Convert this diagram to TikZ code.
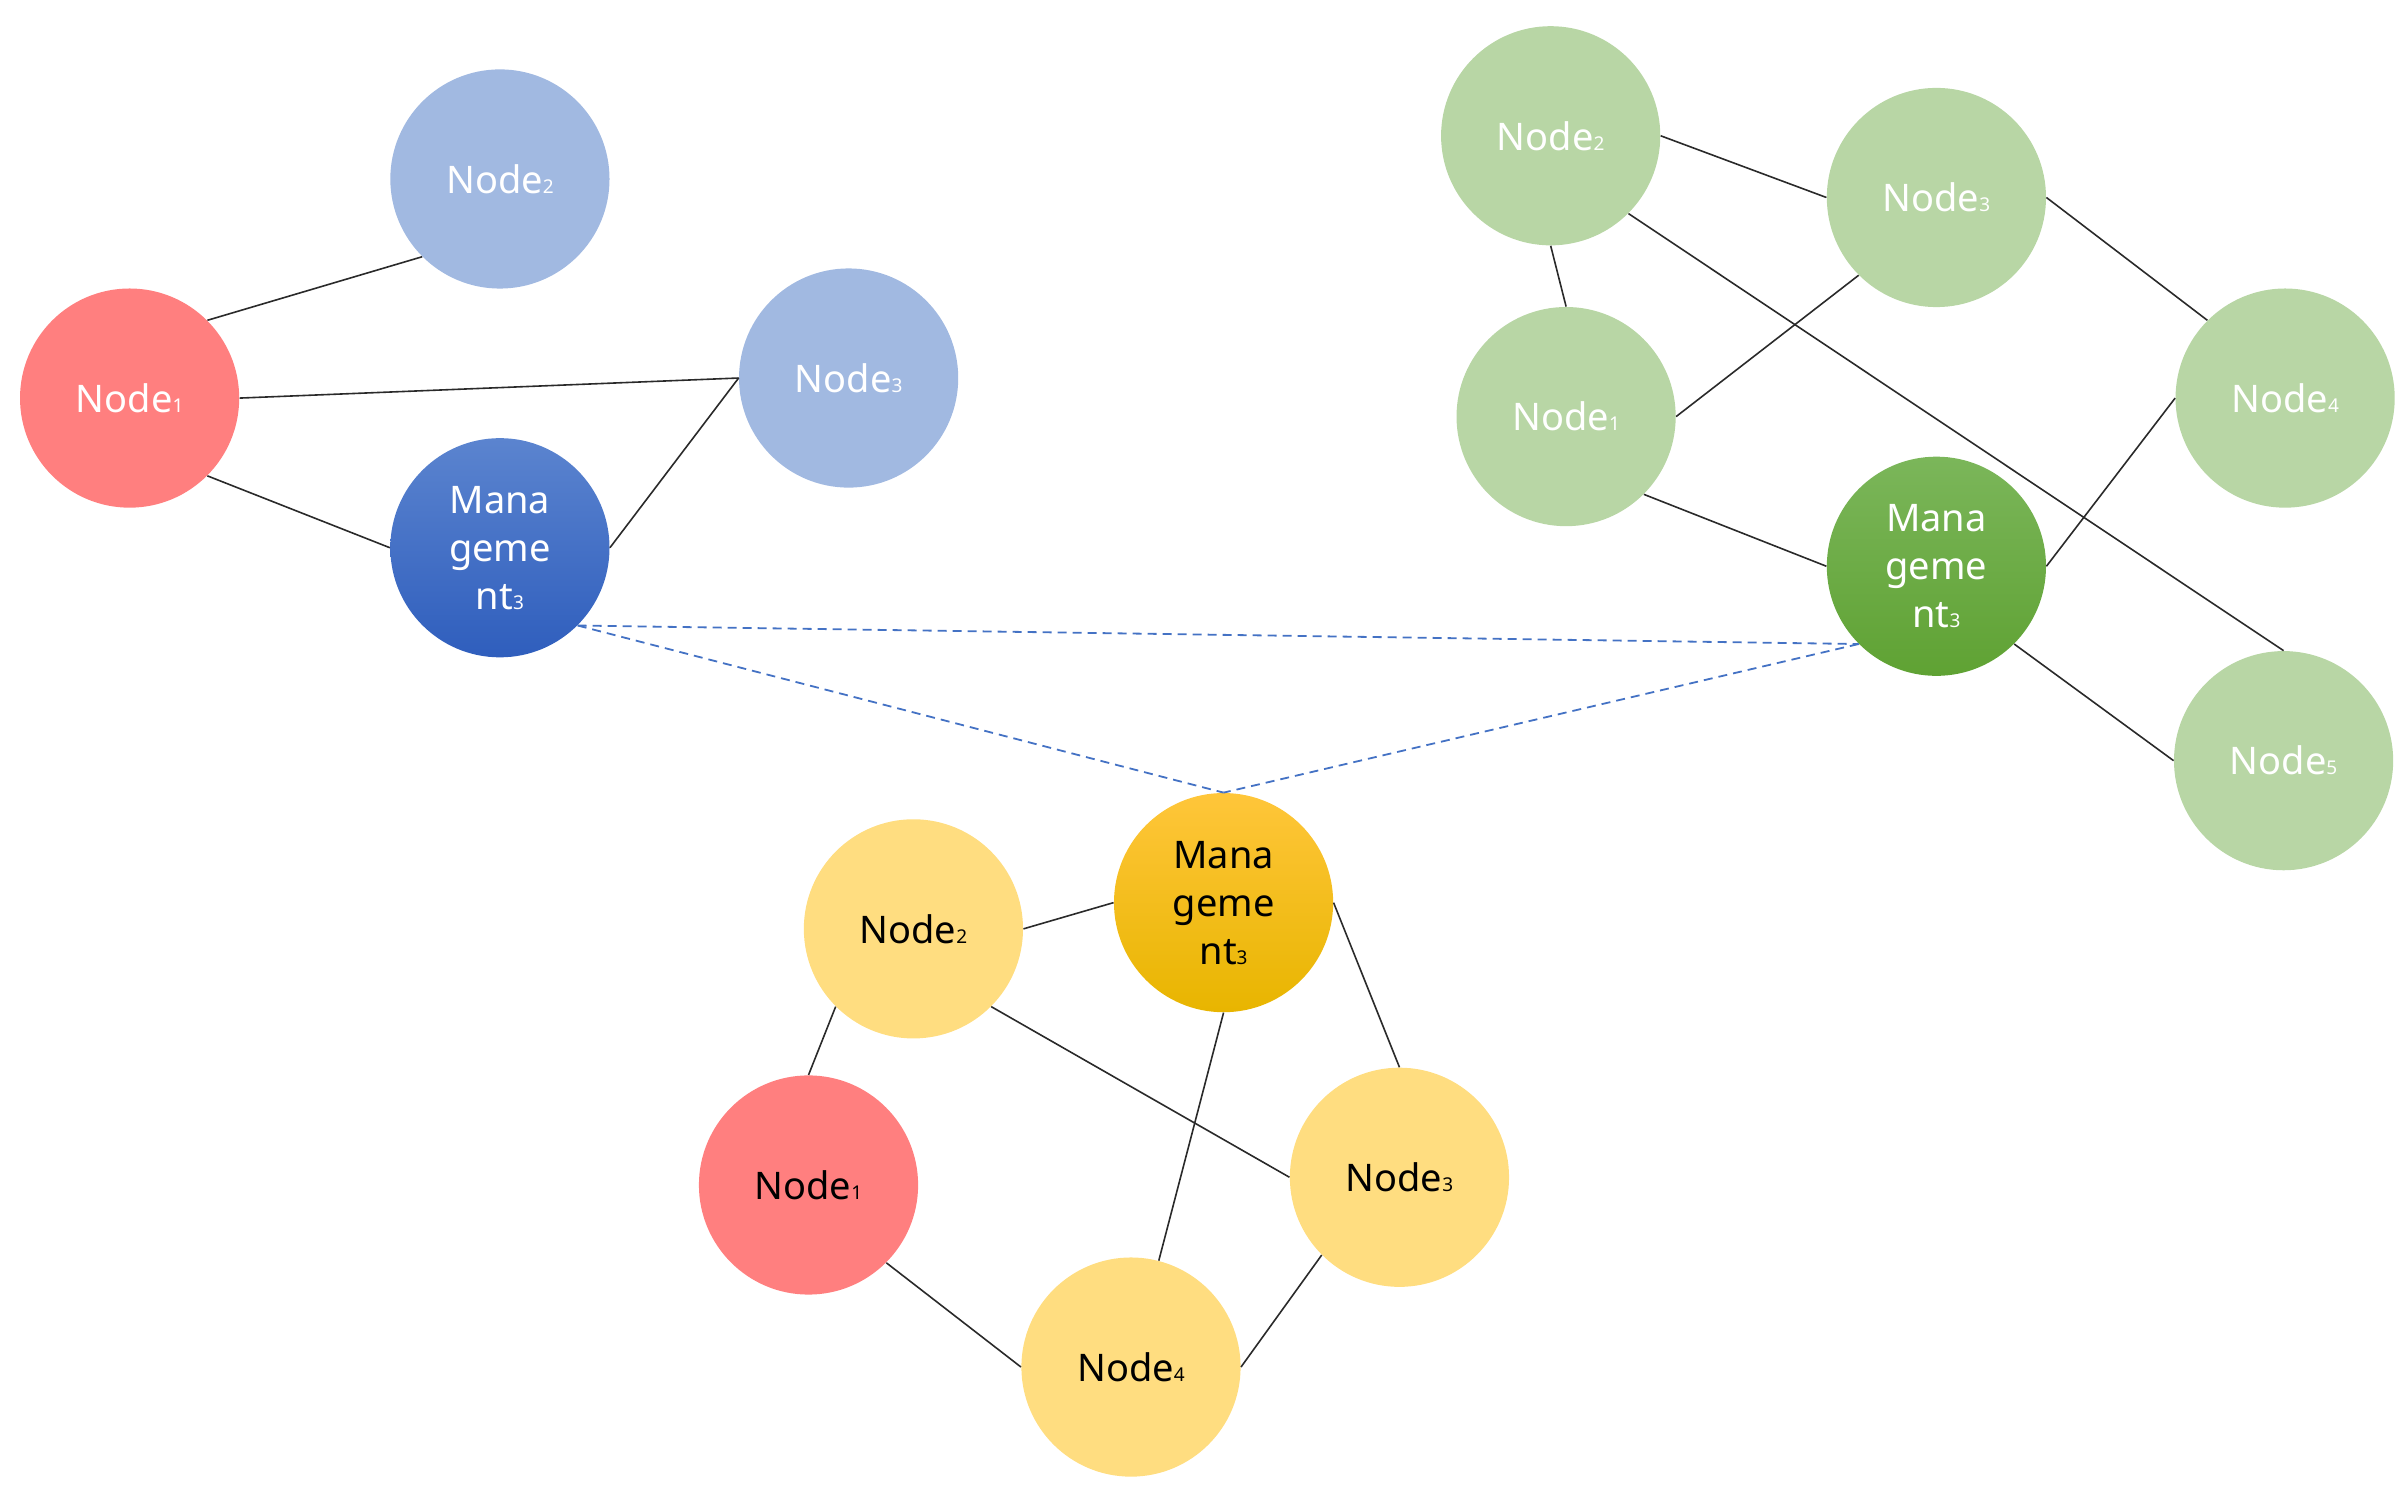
\documentclass[tikz,border=0pt]{standalone}
\usepackage{fontspec}
\setmainfont{Noto Sans}
\definecolor{redc}{HTML}{FF7F7F}
\definecolor{lblue}{HTML}{A1B9E1}
\definecolor{dbluetop}{HTML}{5B84CF}
\definecolor{dbluebot}{HTML}{2F5EBD}
\definecolor{lgreen}{HTML}{B8D6A5}
\definecolor{dgreentop}{HTML}{7BB65A}
\definecolor{dgreenbot}{HTML}{5FA233}
\definecolor{lyellow}{HTML}{FFDD80}
\definecolor{dyeltop}{HTML}{FFC63A}
\definecolor{dyelbot}{HTML}{E8B500}
\definecolor{dashc}{HTML}{4472C4}
\definecolor{linec}{HTML}{2A2A2A}
\newcommand\nsub[1]{{\fontsize{9.5}{10}\selectfont #1}}
\begin{document}
\begin{tikzpicture}[x=0.7715pt,y=-0.7715pt,
  ball/.style={circle,minimum size=109.6pt,inner sep=0pt,align=center,
    font=\fontsize{19}{24}\selectfont},
  wtext/.style={text=white},
  btext/.style={text=black},
  redball/.style={ball,fill=redc},
  lbball/.style={ball,fill=lblue,wtext},
  dbball/.style={ball,top color=dbluetop,bottom color=dbluebot,wtext},
  lgball/.style={ball,fill=lgreen,wtext},
  dgball/.style={ball,top color=dgreentop,bottom color=dgreenbot,wtext},
  lyball/.style={ball,fill=lyellow,btext},
  dyball/.style={ball,top color=dyeltop,bottom color=dyelbot,btext},
  edge/.style={draw=linec,line width=0.8pt},
  dedge/.style={draw=dashc,line width=0.9pt,dash pattern=on 4.5pt off 3pt}
]
\useasboundingbox (0,0) rectangle (1560,965.7);
% left group
\node[redball,wtext] (L1) at (84,258) {Node\nsub{1}};
\node[lbball] (L2) at (324,116) {Node\nsub{2}};
\node[lbball] (L3) at (550,245) {Node\nsub{3}};
\node[dbball] (LM) at (324,355) {Mana\\geme\\nt\nsub{3}};
% right group
\node[lgball] (R2) at (1005,88) {Node\nsub{2}};
\node[lgball] (R3) at (1255,128) {Node\nsub{3}};
\node[lgball] (R1) at (1015,270) {Node\nsub{1}};
\node[lgball] (R4) at (1481,258) {Node\nsub{4}};
\node[dgball] (GM) at (1255,367) {Mana\\geme\\nt\nsub{3}};
\node[lgball] (R5) at (1480,493) {Node\nsub{5}};
% bottom group
\node[dyball] (YM) at (793,585) {Mana\\geme\\nt\nsub{3}};
\node[lyball] (Y2) at (592,602) {Node\nsub{2}};
\node[redball,btext] (Y1) at (524,768) {Node\nsub{1}};
\node[lyball] (Y3) at (907,763) {Node\nsub{3}};
\node[lyball] (Y4) at (733,886) {Node\nsub{4}};
% left edges
\draw[edge] (L1.north east) -- (L2.south west);
\draw[edge] (L1.east) -- (L3.west);
\draw[edge] (L1.south east) -- (LM.west);
\draw[edge] (LM.east) -- (L3.west);
% right edges
\draw[edge] (R2.east) -- (R3.west);
\draw[edge] (R2.south) -- (R1.north);
\draw[edge] (R2.south east) -- (R5.north);
\draw[edge] (R3.south west) -- (R1.east);
\draw[edge] (R3.east) -- (R4.north west);
\draw[edge] (R1.south east) -- (GM.west);
\draw[edge] (GM.east) -- (R4.west);
\draw[edge] (GM.south east) -- (R5.west);
% bottom edges
\draw[edge] (Y2.east) -- (YM.west);
\draw[edge] (Y2.south west) -- (Y1.north);
\draw[edge] (Y2.south east) -- (Y3.west);
\draw[edge] (YM.south) -- (Y4);
\draw[edge] (YM.east) -- (Y3.north);
\draw[edge] (Y1.south east) -- (Y4.west);
\draw[edge] (Y3.south west) -- (Y4.east);
% dashed links
\draw[dedge] (LM.south east) -- (GM.south west);
\draw[dedge] (LM.south east) -- (YM.north);
\draw[dedge] (GM.south west) -- (YM.north);
\end{tikzpicture}
\end{document}
